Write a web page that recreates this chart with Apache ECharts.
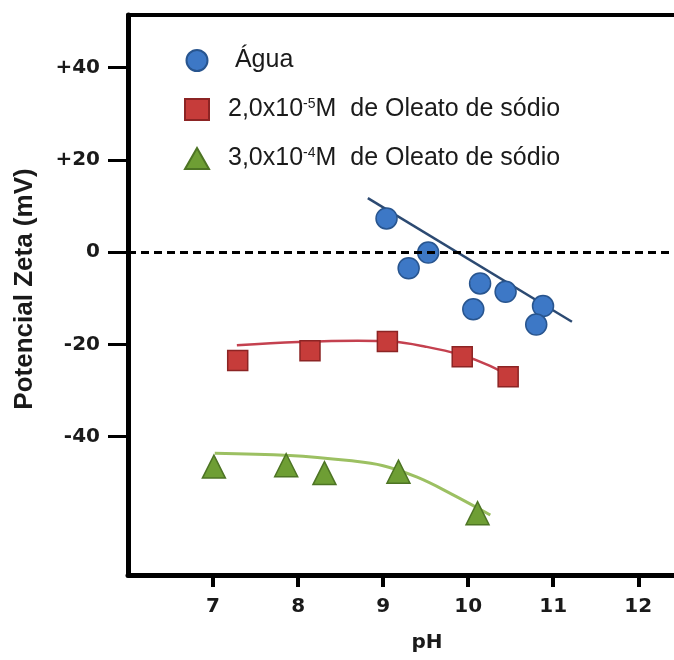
<!DOCTYPE html>
<html>
<head>
<meta charset="utf-8">
<script src="https://cdn.jsdelivr.net/npm/echarts@6/dist/echarts.min.js"></script>
<style>
html,body{margin:0;padding:0;background:#fff;}
#c{width:674px;height:660px;}
</style>
</head>
<body>
<div id="c"></div>
<script>
// Água (water)
const aguaPH   = [9.04, 9.30, 9.53, 10.14, 10.06, 10.44, 10.88, 10.80];
const aguaZeta = [7.3, -3.5, -0.1, -6.8, -12.4, -8.6, -11.7, -15.7];
const aguaFitPH   = [8.82, 11.22];
const aguaFitZeta = [11.7, -15.1];
// 2,0x10-5 M oleato
const oleo5PH   = [7.29, 8.14, 9.05, 9.93, 10.47];
const oleo5Zeta = [-23.5, -21.4, -19.4, -22.7, -27.0];
const oleo5FitPH   = [7.28, 8.0, 8.7, 9.1, 9.5, 9.9, 10.25, 10.57];
const oleo5FitZeta = [-20.2, -19.5, -19.2, -19.4, -20.5, -22.2, -24.6, -27.8];
// 3,0x10-4 M oleato
const oleo4PH   = [7.01, 7.86, 8.31, 9.18, 10.11];
const oleo4Zeta = [-46.5, -46.2, -47.9, -47.6, -56.6];
const oleo4FitPH   = [7.02, 7.9, 8.6, 9.0, 9.4, 9.8, 10.26];
const oleo4FitZeta = [-43.6, -44.1, -45.2, -46.3, -48.8, -52.4, -57.0];

const xTicks = [7, 8, 9, 10, 11, 12];
const yTicks = [-40, -20, 0, 20, 40];
const names = ['Água', '2,0x10-5M  de Oleato de sódio', '3,0x10-4M  de Oleato de sódio'];

const zip = (a, b) => a.map((v, i) => [v, b[i]]);
const FONT = '"Liberation Sans", Arial, sans-serif';
const TICKFONT = '"DejaVu Sans", sans-serif';

const chart = echarts.init(document.getElementById('c'), null, {renderer: 'canvas'});
chart.setOption({
  backgroundColor: '#ffffff',
  animation: false,
  grid: {left: 128, right: 0, top: 15, bottom: 85, containLabel: false},
  legend: {
    orient: 'vertical', left: 179, top: 43,
    itemWidth: 24, itemHeight: 21, itemGap: 24,
    data: [
      {name: names[0], icon: 'circle'},
      {name: names[1], icon: 'rect'},
      {name: names[2], icon: 'triangle'}
    ],
    formatter: function (n) {
      if (n === names[0]) return '{p|}{t| Água}';
      if (n === names[1]) return '{p|}{t|2,0x10}{s|-5}{t|M  de Oleato de sódio}';
      return '{p|}{t|3,0x10}{s|-4}{t|M  de Oleato de sódio}';
    },
    textStyle: {
      fontFamily: FONT, fontSize: 25, color: '#1a1a1a',
      rich: {
        p: {width: 14},
        t: {fontFamily: FONT, fontSize: 25, color: '#1a1a1a', lineHeight: 22},
        s: {fontFamily: FONT, fontSize: 14, color: '#1a1a1a', lineHeight: 22, verticalAlign: 'top', padding: [0, 0, 10, 0]}
      }
    }
  },
  xAxis: [{
    type: 'value', min: 6, max: 12.42, interval: 1,
    splitLine: {show: false},
    axisLine: {show: true, onZero: false, lineStyle: {color: '#000', width: 5}},
    axisTick: {show: true, length: 12, lineStyle: {color: '#000', width: 4}, customValues: xTicks},
    axisLabel: {fontFamily: TICKFONT, fontSize: 20, fontWeight: 'bold', color: '#1a1a1a', margin: 22, customValues: xTicks},
    name: 'pH', nameLocation: 'middle', nameGap: 58,
    nameTextStyle: {fontFamily: TICKFONT, fontSize: 20, fontWeight: 'bold', color: '#1a1a1a', padding: [0, 0, 0, 52]}
  }, {
    type: 'value', position: 'top', min: 6, max: 12.42,
    splitLine: {show: false},
    axisLine: {show: true, onZero: false, lineStyle: {color: '#000', width: 4}},
    axisTick: {show: false}, axisLabel: {show: false}
  }],
  yAxis: {
    type: 'value', min: -70, max: 51.4, interval: 10,
    splitLine: {show: false},
    axisLine: {show: true, onZero: false, lineStyle: {color: '#000', width: 5}},
    axisTick: {show: true, length: 20, lineStyle: {color: '#000', width: 3}, customValues: yTicks},
    axisLabel: {
      fontFamily: TICKFONT, fontSize: 20, fontWeight: 'bold', color: '#1a1a1a', margin: 28,
      customValues: yTicks,
      formatter: v => (v > 0 ? '+' + v : String(v))
    }
  },
  graphic: [{
    type: 'text', x: 25, y: 289, rotation: Math.PI / 2,
    style: {text: 'Potencial Zeta (mV)', fontFamily: FONT, fontSize: 26, fontWeight: 'bold',
            fill: '#1a1a1a', align: 'center', verticalAlign: 'middle'}
  }],
  series: [
    {
      type: 'line', name: 'zero', data: [], silent: true,
      markLine: {
        silent: true, symbol: 'none', label: {show: false},
        lineStyle: {color: '#000', width: 3, type: [8, 5]},
        data: [{yAxis: 0}]
      }
    },
    {
      type: 'line', name: 'fitAgua', data: zip(aguaFitPH, aguaFitZeta), showSymbol: false,
      lineStyle: {color: '#2c4a72', width: 2.5}, z: 2
    },
    {
      type: 'line', name: 'fit5', data: zip(oleo5FitPH, oleo5FitZeta), showSymbol: false, smooth: 0.4,
      lineStyle: {color: '#c4414f', width: 2.5}, z: 2
    },
    {
      type: 'line', name: 'fit4', data: zip(oleo4FitPH, oleo4FitZeta), showSymbol: false, smooth: 0.4,
      lineStyle: {color: '#9cc062', width: 3}, z: 2
    },
    {
      type: 'scatter', name: names[0], data: zip(aguaPH, aguaZeta), symbol: 'circle', symbolSize: 21,
      itemStyle: {color: '#3d78c6', borderColor: '#28558f', borderWidth: 1.5, opacity: 1}, z: 3
    },
    {
      type: 'scatter', name: names[1], data: zip(oleo5PH, oleo5Zeta), symbol: 'rect', symbolSize: 20,
      itemStyle: {color: '#c63c3a', borderColor: '#8c2424', borderWidth: 1.5, opacity: 1}, z: 3
    },
    {
      type: 'scatter', name: names[2], data: zip(oleo4PH, oleo4Zeta), symbol: 'triangle', symbolSize: 23,
      itemStyle: {color: '#6e9e34', borderColor: '#4d7424', borderWidth: 1.5, opacity: 1}, z: 3
    }
  ]
});
</script>
</body>
</html>
